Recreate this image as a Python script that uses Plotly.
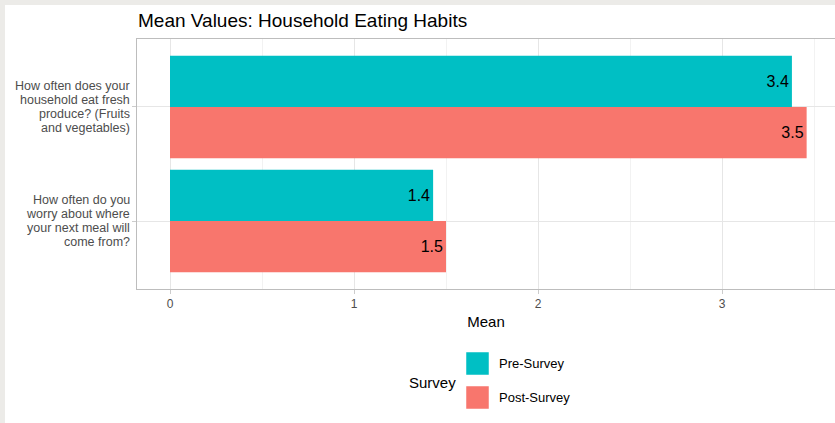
import plotly.graph_objects as go

# ---- data ----
categories = [
    "How often do you|worry about where|your next meal will|come from?",
    "How often does your|household eat fresh|produce? (Fruits|and vegetables)",
]
series_names = ["Pre-Survey", "Post-Survey"]
pre_values = [1.43, 3.38]
post_values = [1.50, 3.46]
x_tick_vals = [0, 1, 2, 3]
x_tick_text = ["0", "1", "2", "3"]

colors = {"Pre-Survey": "#00BFC4", "Post-Survey": "#F8766D"}

W, H = 835, 423
ML, MR, MT, MB = 137, 0, 39, 134
PW, PH = W - ML - MR, H - MT - MB


def px(x):
    return (x - ML) / PW


def py(y):
    return (H - MB - y) / PH


FONT = "Liberation Sans, Arial, sans-serif"

fig = go.Figure()
# Post first so it sits below Pre within each group
for name, vals in [("Post-Survey", post_values), ("Pre-Survey", pre_values)]:
    fig.add_trace(go.Bar(
        y=list(range(len(categories))),
        x=vals,
        orientation="h",
        name=name,
        marker=dict(color=colors[name], line=dict(width=0)),
        text=[f"{v:.1f}" for v in vals],
        textposition="inside",
        insidetextanchor="end",
        textfont=dict(family=FONT, size=16, color="black"),
        showlegend=False,
        hoverinfo="x+name",
    ))

shapes = [
    # white card over light background
    dict(type="rect", xref="paper", yref="paper", x0=px(5), x1=px(W + 5),
         y0=py(H + 5), y1=py(5), fillcolor="white", line=dict(width=0),
         layer="below"),
]
annotations = [
    dict(text="Survey", xref="paper", yref="paper", x=px(407), y=py(382),
         xanchor="left", yanchor="middle", showarrow=False,
         font=dict(family=FONT, size=15, color="black")),
]
leg_rows = [("Pre-Survey", 352, 375), ("Post-Survey", 386, 409)]
for name, y0, y1 in leg_rows:
    shapes.append(dict(type="rect", xref="paper", yref="paper",
                       x0=px(466), x1=px(489), y0=py(y1), y1=py(y0),
                       fillcolor=colors[name], line=dict(width=0.5, color="white")))
    annotations.append(dict(text=name, xref="paper", yref="paper",
                            x=px(497), y=py((y0 + y1) / 2), xanchor="left",
                            yanchor="middle", showarrow=False,
                            font=dict(family=FONT, size=13, color="black")))

# category labels, one annotation per line for tight line spacing
LINE = 14.1
for i, cat in enumerate(categories):
    lines = cat.split("|")
    n = len(lines)
    for j, ln in enumerate(lines):
        annotations.append(dict(
            text=ln, xref="paper", yref="y", x=px(131), y=i,
            xanchor="right", yanchor="middle", showarrow=False,
            borderpad=0,
            yshift=((n - 1) / 2 - j) * LINE,
            font=dict(family=FONT, size=12.5, color="#4d4d4d")))

fig.update_layout(
    width=W, height=H,
    margin=dict(l=ML, r=MR, t=MT, b=MB, pad=0),
    paper_bgcolor="#ecebe8",
    plot_bgcolor="white",
    barmode="group",
    bargap=0.1,
    bargroupgap=0,
    title=dict(text="Mean Values: Household Eating Habits",
               x=138 / W, xanchor="left", xref="container",
               y=1 - 20 / H, yanchor="middle", yref="container",
               font=dict(family=FONT, size=19, color="black")),
    shapes=shapes,
    annotations=annotations,
    showlegend=False,
    xaxis=dict(
        range=[(137 - 170) / 184, (835 - 170) / 184],
        tickvals=x_tick_vals, ticktext=x_tick_text,
        tickfont=dict(family=FONT, size=12, color="#4d4d4d"),
        ticks="outside", ticklen=4, tickcolor="#cccccc",
        showgrid=True, gridcolor="#e6e6e6", gridwidth=1,
        minor=dict(dtick=0.5, tick0=0.5, showgrid=True, gridcolor="#f2f2f2", gridwidth=1),
        showline=True, linecolor="#bdbdbd", linewidth=1, mirror=True,
        zeroline=False,
        title=dict(text="Mean", font=dict(family=FONT, size=15, color="black"), standoff=6),
        fixedrange=True,
    ),
    yaxis=dict(
        range=[-0.596, 1.596],
        tickvals=list(range(len(categories))), ticktext=["" for _ in categories],
        ticks="outside", ticklen=4, tickcolor="#cccccc",
        showgrid=True, gridcolor="#e6e6e6",
        showline=True, linecolor="#bdbdbd", linewidth=1, mirror=False,
        zeroline=False,
        fixedrange=True,
    ),
)

fig.write_html(
    "out.html",
    config={"displayModeBar": False},
    post_script="document.body.style.margin='0';document.body.style.background='#ecebe8';document.body.style.overflow='hidden';",
)
